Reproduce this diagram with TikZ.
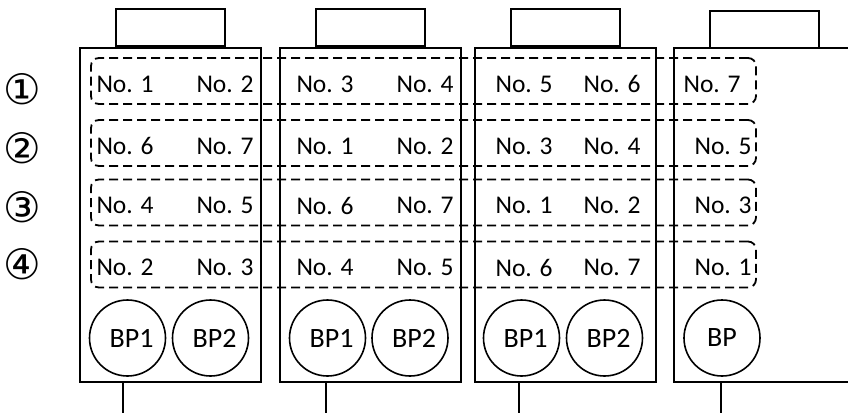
\documentclass[tikz,border=0pt]{standalone}
\usepackage{fontspec}
\setmainfont{Carlito}
\newfontfamily\symfont{DejaVu Sans}
\usetikzlibrary{positioning}

\tikzset{
  unitbox/.style={draw, line width=2pt, minimum width=181pt, minimum height=334pt, inner sep=0pt},
  tabbox/.style={draw, line width=2pt, minimum width=109pt, minimum height=37pt, inner sep=0pt},
  slotrow/.style={draw, line width=1.8pt, dash pattern=on 9pt off 5pt, rounded corners=8pt,
    minimum width=665pt, minimum height=46pt, inner sep=0pt},
  bpcircle/.style={draw, circle, line width=1.6pt, minimum size=76pt, inner sep=0pt,
    font=\fontsize{28}{32}\selectfont},
  lbl/.style={inner sep=0pt, font=\fontsize{25.5}{30}\selectfont},
  rowno/.style={inner sep=0pt, font=\symfont\fontsize{42}{46}\selectfont}
}

\begin{document}
\begin{tikzpicture}[x=1pt, y=-1pt]
      \useasboundingbox (0,0) rectangle (848,413);
      % units
      \node[unitbox] (b1) at (170.5,215) {};
      \node[unitbox] (b2) at (370.5,215) {};
      \node[unitbox] (b3) at (565.5,215) {};
      \node[unitbox, minimum width=200pt] (b4) at (774,215) {};
      \node[tabbox, above=0pt of b1] (t1) {};
      \node[tabbox, above=0pt of b2] (t2) {};
      \node[tabbox, above=0pt of b3] (t3) {};
      \node[tabbox] (t4) at (764.5,29.5) {};
      % stems
      \coordinate (s1) at (123,413);
      \coordinate (s2) at (326,413);
      \coordinate (s3) at (519,413);
      \coordinate (s4) at (721,413);
      \draw[line width=2pt] (b1.south -| s1) -- (s1);
      \draw[line width=2pt] (b2.south -| s2) -- (s2);
      \draw[line width=2pt] (b3.south -| s3) -- (s3);
      \draw[line width=2pt] (b4.south -| s4) -- (s4);
      % slot rows
      \node[slotrow] (r1) at (423.5,81) {};
      \node[slotrow] (r2) at (423.5,143) {};
      \node[slotrow] (r3) at (423.5,202.5) {};
      \node[slotrow] (r4) at (423.5,264.5) {};
      \node[rowno] (k1) at (22,89) {①};
      \node[rowno] (k2) at (22,148) {②};
      \node[rowno] (k3) at (22,207) {③};
      \node[rowno] (k4) at (22,264) {④};
      % row 1
      \node[lbl] (a1) at (125,84) {No. 1};
      \node[lbl] (a2) at (225,84) {No. 2};
      \node[lbl] (a3) at (325,84) {No. 3};
      \node[lbl] (a4) at (425,84) {No. 4};
      \node[lbl] (a5) at (524,84) {No. 5};
      \node[lbl] (a6) at (612,84) {No. 6};
      \node[lbl] (a7) at (712,84) {No. 7};
      % row 2
      \node[lbl] (c1) at (125,146) {No. 6};
      \node[lbl] (c2) at (225,146) {No. 7};
      \node[lbl] (c3) at (325,146) {No. 1};
      \node[lbl] (c4) at (425,146) {No. 2};
      \node[lbl] (c5) at (524,146) {No. 3};
      \node[lbl] (c6) at (612,146) {No. 4};
      \node[lbl] (c7) at (723,146) {No. 5};
      % row 3
      \node[lbl] (d1) at (125,205.5) {No. 4};
      \node[lbl] (d2) at (225,205.5) {No. 5};
      \node[lbl] (d3) at (325,205.5) {No. 6};
      \node[lbl] (d4) at (425,205.5) {No. 7};
      \node[lbl] (d5) at (524,205.5) {No. 1};
      \node[lbl] (d6) at (612,205.5) {No. 2};
      \node[lbl] (d7) at (723,205.5) {No. 3};
      % row 4
      \node[lbl] (e1) at (125,267.5) {No. 2};
      \node[lbl] (e2) at (225,267.5) {No. 3};
      \node[lbl] (e3) at (325,267.5) {No. 4};
      \node[lbl] (e4) at (425,267.5) {No. 5};
      \node[lbl] (e5) at (524,267.5) {No. 6};
      \node[lbl] (e6) at (612,267.5) {No. 7};
      \node[lbl] (e7) at (723,267.5) {No. 1};
      % pumps
      \node[bpcircle] (p11) at (127.5,338) {\hspace{8pt}BP1};
      \node[bpcircle] (p12) at (210.5,338) {\hspace{8pt}BP2};
      \node[bpcircle] (p21) at (327.5,338) {\hspace{8pt}BP1};
      \node[bpcircle] (p22) at (410,338) {\hspace{8pt}BP2};
      \node[bpcircle] (p31) at (521.5,338) {\hspace{8pt}BP1};
      \node[bpcircle] (p32) at (604.5,338) {\hspace{8pt}BP2};
      \node[bpcircle] (p41) at (722,338) {BP};
    \end{tikzpicture}
\end{document}
